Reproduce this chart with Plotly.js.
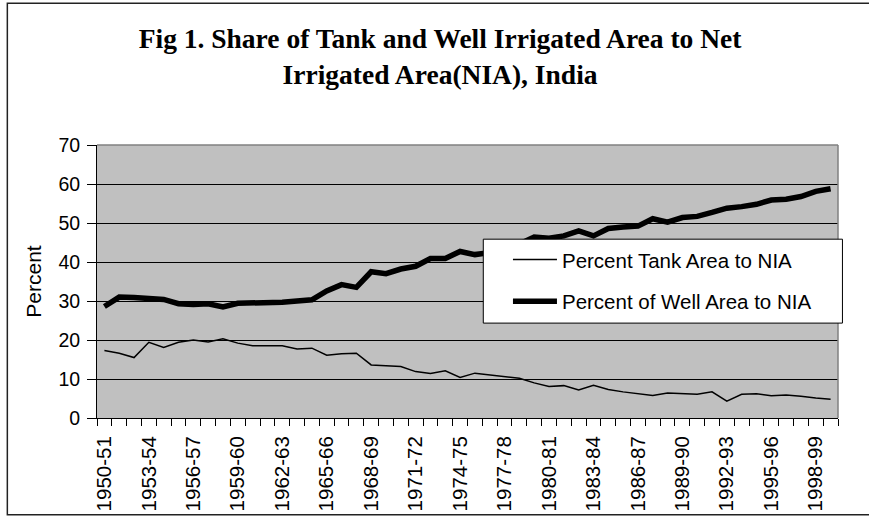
<!DOCTYPE html>
<html>
<head>
<meta charset="utf-8">
<script src="https://cdn.plot.ly/plotly-3.0.1.min.js"></script>
<style>html,body{margin:0;padding:0;background:#fff;}#chart{width:869px;height:516px;}</style>
</head>
<body>
<div id="chart"></div>
<script>
const categories = ['1950-51','1951-52','1952-53','1953-54','1954-55','1955-56','1956-57','1957-58','1958-59','1959-60',
'1960-61','1961-62','1962-63','1963-64','1964-65','1965-66','1966-67','1967-68','1968-69','1969-70',
'1970-71','1971-72','1972-73','1973-74','1974-75','1975-76','1976-77','1977-78','1978-79','1979-80',
'1980-81','1981-82','1982-83','1983-84','1984-85','1985-86','1986-87','1987-88','1988-89','1989-90',
'1990-91','1991-92','1992-93','1993-94','1994-95','1995-96','1996-97','1997-98','1998-99','1999-00'];
const tankShare = [17.3,16.6,15.5,19.4,18.1,19.4,20.0,19.5,20.3,19.2,
18.5,18.5,18.5,17.7,17.9,16.1,16.5,16.6,13.6,13.4,
13.2,11.9,11.4,12.1,10.4,11.5,11.1,10.6,10.2,9.0,
8.1,8.3,7.2,8.4,7.3,6.7,6.2,5.8,6.4,6.2,
6.1,6.7,4.3,6.1,6.2,5.7,5.9,5.6,5.1,4.8];
const wellShare = [28.6,31.0,30.9,30.7,30.4,29.3,29.1,29.3,28.5,29.4,
29.4,29.4,29.7,30.0,30.3,32.6,34.2,33.5,37.5,37.0,
38.2,38.9,40.9,40.9,42.7,41.9,42.4,43.3,44.6,46.4,
46.1,46.7,48.0,46.7,48.6,49.0,49.2,51.1,50.2,51.4,
51.7,52.7,53.8,54.2,54.8,55.9,56.1,56.8,58.1,58.8];
const tickLabels = ['1950-51','1953-54','1956-57','1959-60','1962-63','1965-66','1968-69','1971-72','1974-75',
'1977-78','1980-81','1983-84','1986-87','1989-90','1992-93','1995-96','1998-99'];
const yTicks = [0,10,20,30,40,50,60,70];

const traces = [
  {x: categories, y: tankShare, type: 'scatter', mode: 'lines', name: 'Percent Tank Area to NIA',
   legendgroup: 'a', line: {color: '#000', width: 1.5}},
  {x: categories, y: wellShare, type: 'scatter', mode: 'lines', name: 'Percent of Well Area to NIA',
   legendgroup: 'b', line: {color: '#000', width: 5.5}}
];

const sans = 'Liberation Sans, Arial, sans-serif';
const layout = {
  width: 869, height: 516,
  margin: {l: 97, r: 31, t: 145, b: 98, pad: 0},
  paper_bgcolor: '#ffffff',
  plot_bgcolor: '#c0c0c0',
  showlegend: true,
  title: {
    text: 'Fig 1. Share of Tank and Well Irrigated Area to Net<br>Irrigated Area(NIA), India',
    font: {family: 'Liberation Serif, Times New Roman, serif', size: 27.5, color: '#000', weight: 'bold'},
    xref: 'paper', x: 0.463, xanchor: 'center',
    yref: 'container', y: 0.907, yanchor: 'top'
  },
  xaxis: {
    type: 'category',
    range: [-0.5, 49.5],
    tickvals: categories,
    ticktext: categories.map(c => tickLabels.includes(c) ? c : ''),
    tickson: 'boundaries',
    ticks: 'outside', ticklen: 7, tickcolor: '#000', tickwidth: 1,
    ticklabelstandoff: 9,
    tickangle: -90,
    tickfont: {family: sans, size: 20.5, color: '#000'},
    showline: true, linecolor: '#000', linewidth: 1,
    showgrid: false, zeroline: false
  },
  yaxis: {
    range: [0, 70],
    tickvals: yTicks,
    ticks: 'outside', ticklen: 9, tickcolor: '#000', tickwidth: 1,
    ticklabelstandoff: 3,
    tickfont: {family: sans, size: 19.5, color: '#000'},
    showline: true, linecolor: '#000', linewidth: 1,
    showgrid: true, gridcolor: '#000', gridwidth: 1,
    zeroline: false,
    title: {text: 'Percent', font: {family: sans, size: 21, color: '#000'}, standoff: 11}
  },
  legend: {
    x: 0.5546, xanchor: 'left', y: 0.653, yanchor: 'top',
    bgcolor: 'rgba(0,0,0,0)', borderwidth: 0,
    font: {family: sans, size: 20.5, color: '#000'},
    traceorder: 'grouped', tracegroupgap: 12, itemwidth: 44
  },
  shapes: [
    {type: 'rect', xref: 'paper', yref: 'paper', x0: -0.121, x1: 1.1, y0: -0.354, y1: 1.5196,
     line: {color: '#222', width: 1.5}, fillcolor: 'rgba(0,0,0,0)', layer: 'below'},
    {type: 'line', xref: 'paper', yref: 'paper', x0: 0, x1: 1, y0: 1, y1: 1, line: {color: '#808080', width: 1.5}, layer: 'above'},
    {type: 'line', xref: 'paper', yref: 'paper', x0: 1, x1: 1, y0: 0, y1: 1, line: {color: '#808080', width: 1.5}, layer: 'above'},
    {type: 'rect', xref: 'paper', yref: 'paper', x0: 0.5213, x1: 1.006, y0: 0.3476, y1: 0.655,
     line: {color: '#000', width: 1}, fillcolor: '#ffffff', layer: 'above'}
  ]
};

Plotly.newPlot('chart', traces, layout, {displayModeBar: false, staticPlot: true});
</script>
</body>
</html>
